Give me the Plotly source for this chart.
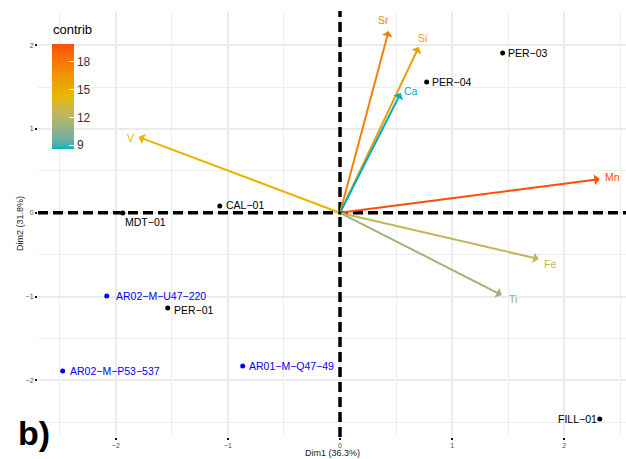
import plotly.graph_objects as go

# ---------------- data ----------------
var_names = ["Sr", "Si", "Ca", "V", "Mn", "Fe", "Ti"]
var_dim1 = [0.434, 0.702, 0.541, -1.796, 2.317, 1.772, 1.442]
var_dim2 = [2.170, 1.978, 1.430, 0.905, 0.403, -0.551, -0.981]
var_contrib = [17.6, 15.9, 8.6, 14.5, 19.9, 12.5, 11.1]

ind_names = ["PER-03", "PER-04", "CAL-01", "MDT-01", "AR02-M-U47-220",
             "PER-01", "AR02-M-P53-537", "AR01-M-Q47-49", "FILL-01"]
ind_dim1 = [1.451, 0.773, -1.073, -1.938, -2.081, -1.537, -2.474, -0.868, 2.317]
ind_dim2 = [1.907, 1.561, 0.081, -0.002, -0.993, -1.136, -1.888, -1.828, -2.461]
ind_supplementary = [False, False, False, False, True, False, True, True, False]

x_ticks = [-2, -1, 0, 1, 2]
y_ticks = [-2, -1, 0, 1, 2]
cbar_ticks = [9, 12, 15, 18]

# ---------------- style ----------------
grad_cols = ["#00AFBB", "#E7B800", "#FC4E07"]
X_RANGE = [-2.694, 2.551]
Y_RANGE = [-2.675, 2.408]


def hex_to_rgb(h):
    h = h.lstrip("#")
    return [int(h[i:i + 2], 16) / 255 for i in (0, 2, 4)]


def rgb_to_lab(rgb):
    def lin(c):
        return c / 12.92 if c <= 0.04045 else ((c + 0.055) / 1.055) ** 2.4
    r, g, b = [lin(c) for c in rgb]
    X = (0.4124 * r + 0.3576 * g + 0.1805 * b) / 0.95047
    Y = (0.2126 * r + 0.7152 * g + 0.0722 * b)
    Z = (0.0193 * r + 0.1192 * g + 0.9505 * b) / 1.08883

    def f(t):
        return t ** (1 / 3) if t > 0.008856 else 7.787 * t + 16 / 116
    fx, fy, fz = f(X), f(Y), f(Z)
    return [116 * fy - 16, 500 * (fx - fy), 200 * (fy - fz)]


def lab_to_hex(lab):
    L, a, b = lab
    fy = (L + 16) / 116
    fx = fy + a / 500
    fz = fy - b / 200

    def finv(t):
        return t ** 3 if t ** 3 > 0.008856 else (t - 16 / 116) / 7.787
    X, Y, Z = finv(fx) * 0.95047, finv(fy), finv(fz) * 1.08883
    r = 3.2406 * X - 1.5372 * Y - 0.4986 * Z
    g = -0.9689 * X + 1.8758 * Y + 0.0415 * Z
    bb = 0.0557 * X - 0.2040 * Y + 1.0570 * Z

    def gam(c):
        c = max(0.0, min(1.0, c))
        return 12.92 * c if c <= 0.0031308 else 1.055 * c ** (1 / 2.4) - 0.055
    return "#%02x%02x%02x" % tuple(int(round(gam(c) * 255)) for c in (r, g, bb))


labs = [rgb_to_lab(hex_to_rgb(c)) for c in grad_cols]


def color_at(t):
    t = max(0.0, min(1.0, t))
    seg = min(int(t * 2), 1)
    u = t * 2 - seg
    l1, l2 = labs[seg], labs[seg + 1]
    return lab_to_hex([l1[i] + (l2[i] - l1[i]) * u for i in range(3)])


n_stops = 41
colorscale = [[i / (n_stops - 1), color_at(i / (n_stops - 1))] for i in range(n_stops)]
cmin, cmax = min(var_contrib), max(var_contrib)

var_label_shift = {"Sr": (-5, 11), "Si": (4, 9), "Ca": (10, 2), "V": (-8, -1),
                   "Mn": (13, 2), "Fe": (11, -5), "Ti": (11, -4)}
ind_label_style = {
    "PER-03": ("left", 3, 0), "PER-04": ("left", 3, 0), "CAL-01": ("left", 4, 1),
    "MDT-01": ("left", 0, -9), "AR02-M-U47-220": ("left", 7, 0),
    "PER-01": ("left", 4, -2), "AR02-M-P53-537": ("left", 5, 0),
    "AR01-M-Q47-49": ("left", 4, 0), "FILL-01": ("right", -1, 0),
}

FONT = "Liberation Sans, Arial, sans-serif"
MINUS = "\u2212"
DASH = dict(color="black", width=3.5, dash="10px,5px")

fig = go.Figure()

# dashed reference lines through the origin (drawn above the grid, below points)
fig.add_trace(go.Scatter(x=X_RANGE, y=[0, 0], mode="lines", line=DASH,
                         hoverinfo="skip", showlegend=False))
fig.add_trace(go.Scatter(x=[0, 0], y=Y_RANGE, mode="lines", line=DASH,
                         hoverinfo="skip", showlegend=False))

# individuals
ind_colors = ["#0000FF" if s else "#000000" for s in ind_supplementary]
fig.add_trace(go.Scatter(
    x=ind_dim1, y=ind_dim2, mode="markers",
    marker=dict(color=ind_colors, size=5),
    hoverinfo="text", text=ind_names, showlegend=False))

# dummy trace for colorbar
fig.add_trace(go.Scatter(
    x=var_dim1, y=var_dim2, mode="markers",
    marker=dict(size=0.1, opacity=0, color=var_contrib, colorscale=colorscale,
                cmin=cmin, cmax=cmax, showscale=True,
                colorbar=dict(
                    title=dict(text=""),
                    thickness=22, len=105, lenmode="pixels",
                    x=(52 - 38) / 588, xanchor="left", xpad=0,
                    y=(437 - 44) / 426, yanchor="top", ypad=0,
                    outlinewidth=0, tickvals=cbar_ticks,
                    ticks="inside", ticklen=5, tickcolor="white", tickwidth=1,
                    tickfont=dict(size=12, color="#333333", family=FONT),
                    bgcolor="rgba(0,0,0,0)")),
    hoverinfo="skip", showlegend=False))

annotations = []
# colorbar title (centred over bar + tick labels, as in ggplot)
annotations.append(dict(x=(72 - 38) / 588, y=(437 - 30) / 426, xref="paper", yref="paper",
                        text="contrib", showarrow=False, xanchor="center", yanchor="middle",
                        font=dict(size=13, color="#000000", family=FONT)))

# variable arrows & labels
for name, x, y, c in zip(var_names, var_dim1, var_dim2, var_contrib):
    col = color_at((c - cmin) / (cmax - cmin))
    annotations.append(dict(
        x=x, y=y, ax=0, ay=0, xref="x", yref="y", axref="x", ayref="y",
        text="", showarrow=True, arrowhead=1, arrowsize=0.9, arrowwidth=2,
        arrowcolor=col, standoff=0, startstandoff=0))
    dx, dy = var_label_shift[name]
    annotations.append(dict(
        x=x, y=y, xref="x", yref="y", text=name, showarrow=False,
        xshift=dx, yshift=dy, xanchor="center", yanchor="middle",
        font=dict(size=10.5, color=col, family=FONT)))

# individual labels
for name, x, y, s, c in zip(ind_names, ind_dim1, ind_dim2, ind_supplementary, ind_colors):
    anchor, dx, dy = ind_label_style[name]
    annotations.append(dict(
        x=x, y=y, xref="x", yref="y", text=name.replace("-", MINUS), showarrow=False,
        xshift=dx, yshift=dy, xanchor=anchor, yanchor="middle",
        font=dict(size=10.5, color=c, family=FONT)))

# axis titles
annotations.append(dict(x=0.5, y=(437 - 453) / 426, xref="paper", yref="paper",
                        text="Dim1 (36.3%)", showarrow=False, xanchor="center",
                        yanchor="middle", font=dict(size=9, color="#222222", family=FONT)))
annotations.append(dict(x=(20 - 38) / 588, y=0.5, xref="paper", yref="paper",
                        text="Dim2 (31.8%)", showarrow=False, textangle=-90,
                        xanchor="center", yanchor="middle",
                        font=dict(size=9, color="#222222", family=FONT)))
# panel tag
annotations.append(dict(x=(16 - 38) / 588, y=(437 - 433) / 426, xref="paper", yref="paper",
                        text="<b>b)</b>", showarrow=False, xanchor="left",
                        yanchor="middle", font=dict(size=34, color="#000000", family=FONT)))

axis_common = dict(
    showgrid=True, gridcolor="#ebebeb", gridwidth=1.5, zeroline=False,
    ticks="outside", ticklen=2, tickwidth=2, tickcolor="#111111",
    tickfont=dict(size=7, color="#4d4d4d", family=FONT),
    showline=False, automargin=False,
    minor=dict(dtick=0.5, showgrid=True, gridcolor="#ededed", gridwidth=1.2, ticks=""),
)

fig.update_layout(
    width=626, height=459,
    margin=dict(l=38, r=0, t=11, b=22, autoexpand=False),
    plot_bgcolor="white", paper_bgcolor="white",
    xaxis=dict(range=X_RANGE, tickvals=x_ticks, tick0=0, **axis_common),
    yaxis=dict(range=Y_RANGE, tickvals=y_ticks, tick0=0, **axis_common),
    annotations=annotations,
    showlegend=False,
)

fig.write_html("out.html", config={"displayModeBar": False},
               post_script="document.body.style.margin='0';document.body.style.padding='0';")
